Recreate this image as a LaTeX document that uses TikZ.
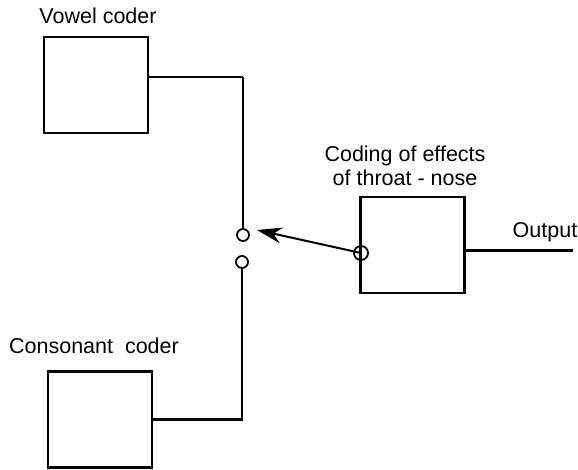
\documentclass[tikz,border=0pt]{standalone}
\usepackage{fontspec}
\setmainfont{Liberation Sans}
\usetikzlibrary{arrows.meta, positioning}

\begin{document}
\begin{tikzpicture}[
  x=1pt, y=-1pt,
  coder/.style={draw, line width=2.2pt, minimum width=104pt, minimum height=96pt, inner sep=0pt},
  contact/.style={draw, circle, line width=1.8pt, minimum size=12pt, inner sep=0pt, fill=white},
  wire/.style={line width=2.2pt},
  lbl/.style={font=\fontsize{21.5}{24}\selectfont, align=center, inner sep=0pt},
  >={Stealth[length=25pt, width=16pt]}
]
  \useasboundingbox (0,0) rectangle (578,469);

  \node[coder] (vowel)     at (96,85)     {};
  \node[coder] (consonant) at (100,419.5) {};
  \node[coder] (throat)    at (412.5,245) {};

  \node[lbl] (vowellbl)     at (98,16)  {Vowel coder};
  \node[lbl] (consonantlbl) at (94,346) {Consonant\ \ coder};
  \node[lbl] (throatlbl)    at (405,166) {Coding of effects\\of throat - nose};
  \node[lbl] (outlbl)       at (545,232) {Output};

  \coordinate (vtop) at (243,77);
  \coordinate (out)  at (573,250);
  \coordinate (tip)  at (257,230);

  \draw[line width=1.4pt] (vowel.east |- vtop) -- (vtop);
  \draw[wire] (vtop) -- (243,229);
  \draw[wire] (242,268) |- (consonant.east);
  \node[contact] (swA) at (243,235) {};
  \node[contact] (swB) at (242,262) {};

  \draw[line width=3pt] (throat.east |- out) -- (out);

  \node[contact, minimum size=14pt, fill=none] (pin) at (361,253) {};
  \draw[->, line width=2pt] (pin.center) -- (tip);
\end{tikzpicture}
\end{document}
